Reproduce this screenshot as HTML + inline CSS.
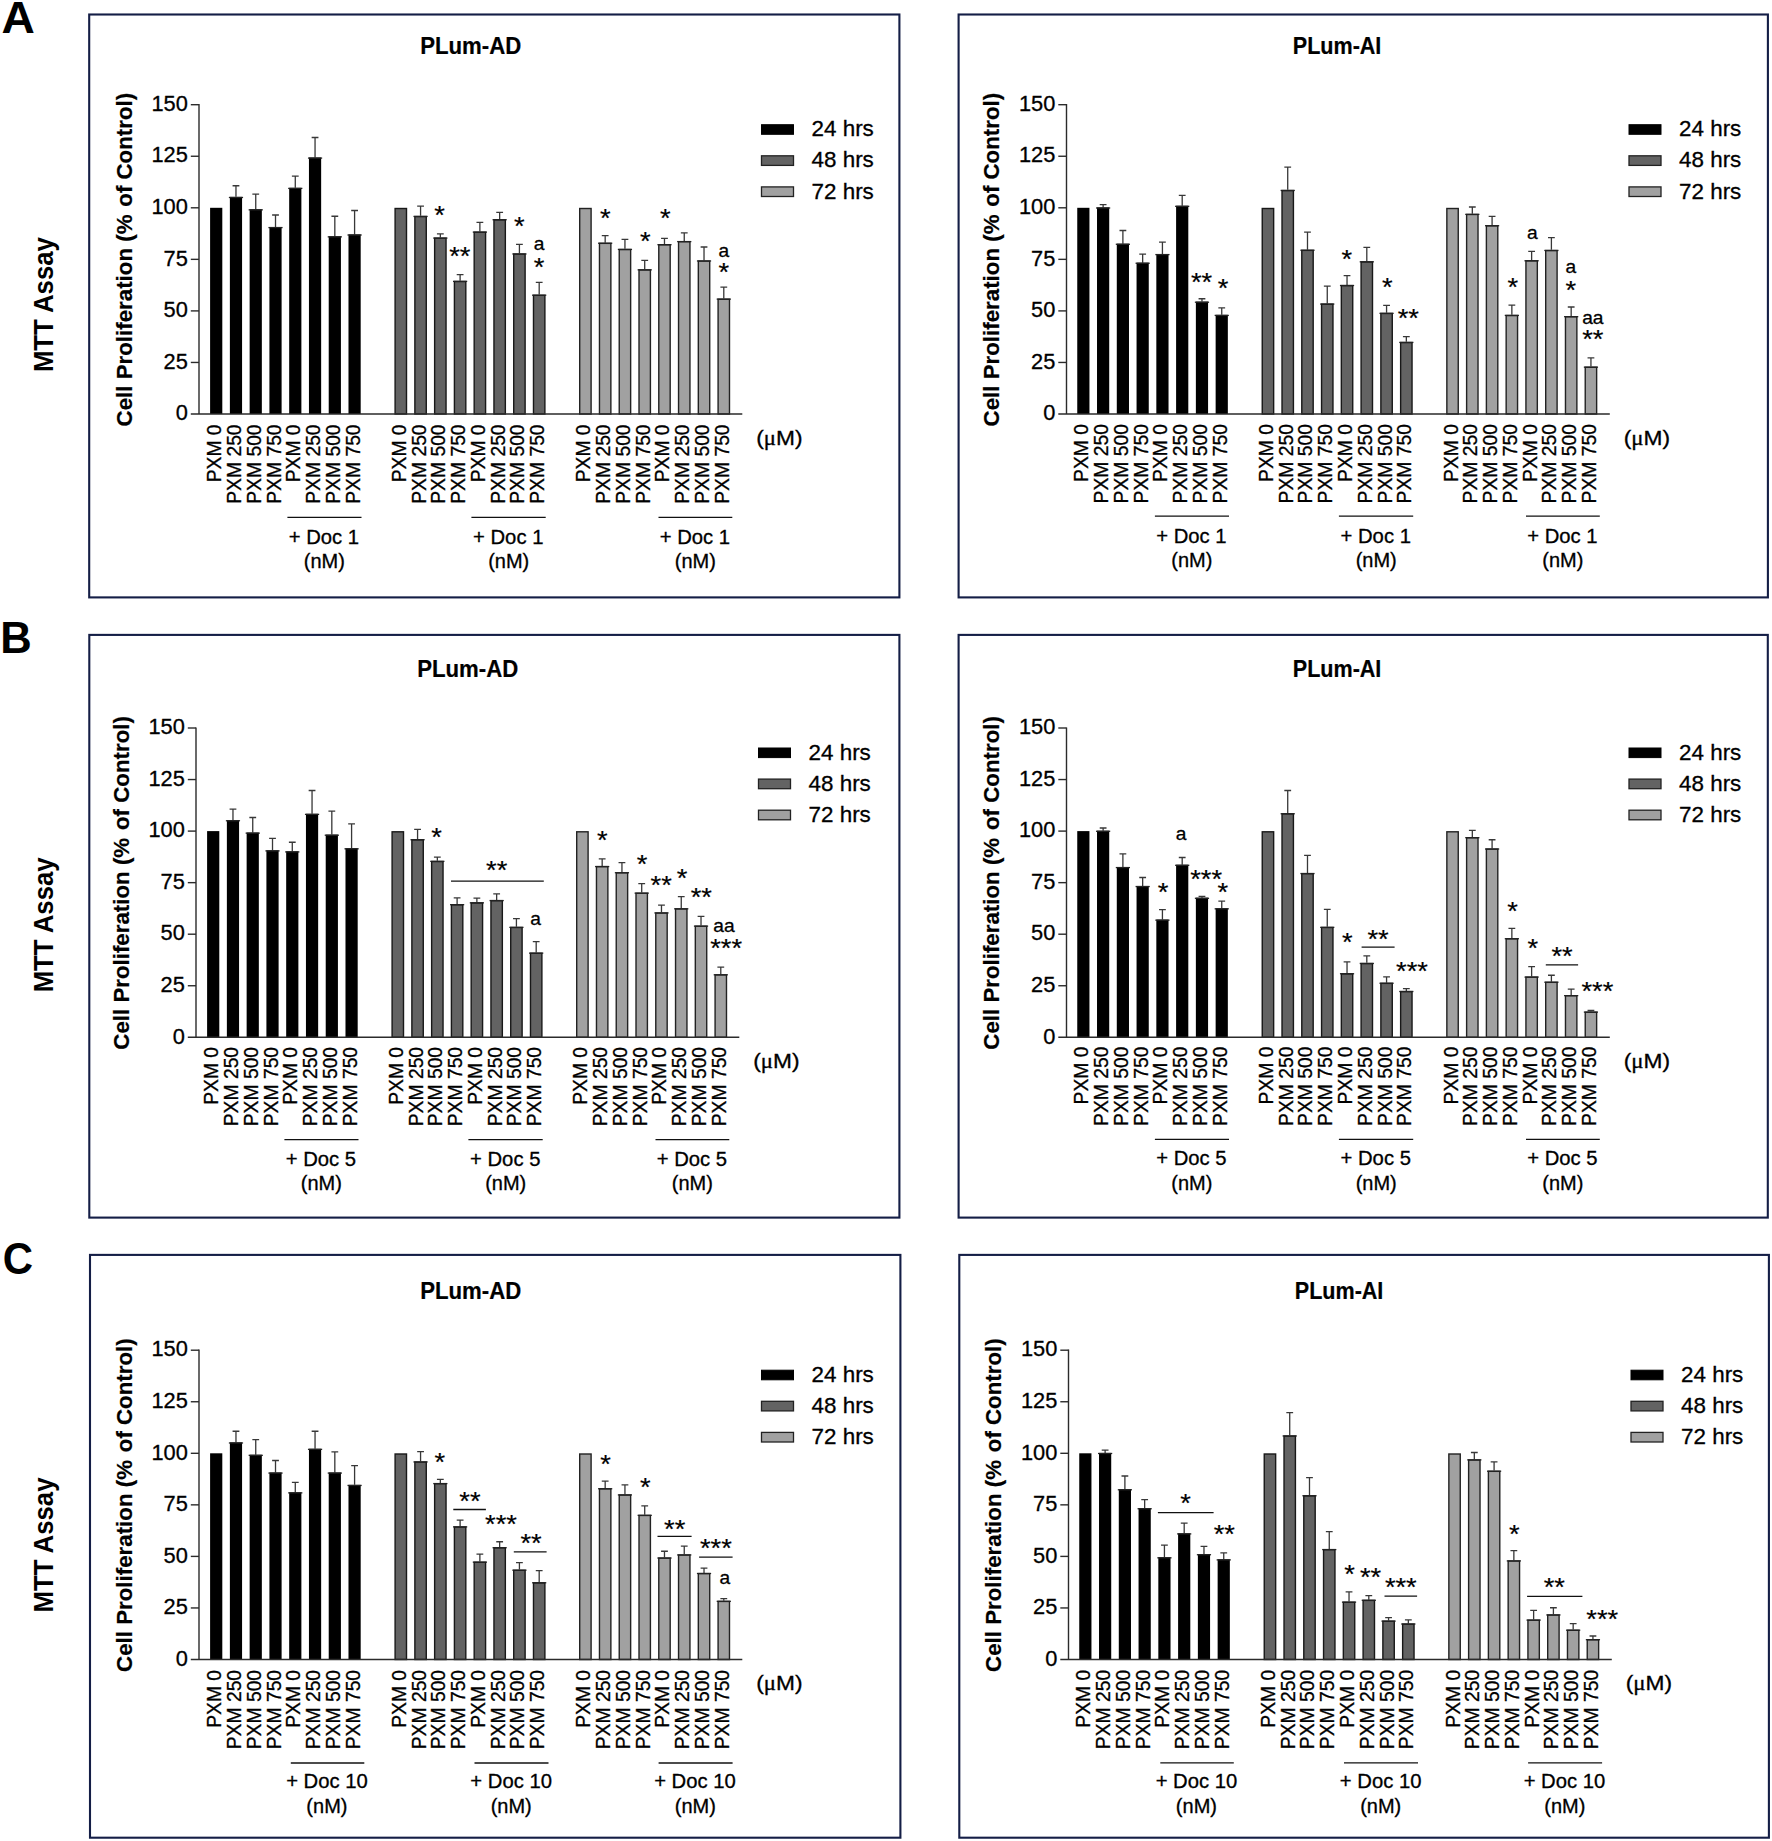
<!DOCTYPE html>
<html lang="en"><head><meta charset="utf-8"><title>MTT Assay - PXM and Doc combination</title>
<style>
html,body{margin:0;padding:0;background:#fff;}
body{width:1772px;height:1841px;overflow:hidden;}
svg{display:block;font-family:"Liberation Sans",Arial,Helvetica,sans-serif;fill:#000;}
text{stroke:#000;stroke-width:0.3px;}
.pb{fill:none;stroke:#141e46;stroke-width:2.1;}
.rl{font-size:43.6px;font-weight:bold;stroke:none;}
.mtt{font-size:26.2px;font-weight:bold;stroke:none;}
.ttl{font-size:22.3px;font-weight:bold;stroke-width:0.2px;}
.yl{font-size:22.3px;font-weight:bold;stroke-width:0.2px;}
.tk,.xl{font-size:19.6px;}
.yt{font-size:21.8px;}
.lt{font-size:21.8px;}
.aa{font-size:18.6px;}
.st{font-size:25.0px;stroke-width:0.2px;}
.mu{font-family:"Liberation Serif","DejaVu Serif",serif;}
.ax{fill:none;stroke:#2b2b2b;stroke-width:1.4;}
.ln{fill:none;stroke:#111;stroke-width:1.3;}
.eb{fill:none;stroke:#383838;stroke-width:1.3;}
.bt{fill:none;stroke:#222;stroke-width:1.3;}
.b0{fill:#000000;}
.b1{fill:#636363;stroke:#181818;stroke-width:1.4;}
.b2{fill:#a1a1a1;stroke:#222222;stroke-width:1.4;}
.lg0{fill:#000;stroke:#000;stroke-width:1;}
.lg1{fill:#636363;stroke:#222;stroke-width:1.3;}
.lg2{fill:#a1a1a1;stroke:#222;stroke-width:1.3;}
</style></head>
<body>
<svg width="1772" height="1841" viewBox="0 0 1772 1841">
<rect width="1772" height="1841" fill="#fff"/>
<rect class="pb" x="89.2" y="14.5" width="810.2" height="582.9"/>
<rect class="pb" x="958.6" y="14.5" width="809.3" height="582.9"/>
<rect class="pb" x="89.3" y="634.9" width="810.1" height="582.7"/>
<rect class="pb" x="958.6" y="634.9" width="809.2" height="582.7"/>
<rect class="pb" x="90" y="1254.9" width="810.4" height="582.8"/>
<rect class="pb" x="959.3" y="1254.9" width="809.6" height="582.8"/>
<text class="rl" transform="translate(1.4 33.3) scale(1.06 1)">A</text>
<text class="mtt" transform="translate(53 304.6) rotate(-90) scale(0.983 1.04)" text-anchor="middle">MTT Assay</text>
<text class="rl" transform="translate(0.3 653.1)">B</text>
<text class="mtt" transform="translate(53 924.9) rotate(-90) scale(0.983 1.04)" text-anchor="middle">MTT Assay</text>
<text class="rl" transform="translate(2.7 1273.7) scale(0.962 1.027)">C</text>
<text class="mtt" transform="translate(53 1545) rotate(-90) scale(0.983 1.04)" text-anchor="middle">MTT Assay</text>
<g transform="translate(199 414)">
<text class="ttl" transform="translate(271.7 -360.1) scale(0.995 1.096)" text-anchor="middle">PLum-AD</text>
<text class="yl" transform="translate(-67.3 -154.4) rotate(-90)" text-anchor="middle">Cell Proliferation (% <tspan dx="1.6">of</tspan> Control)</text>
<rect class="b0" x="11.1" y="-206.2" width="12.2" height="206.2"/>
<text class="xl" transform="translate(22.2 10.4) rotate(-90) scale(0.985 1.055)" text-anchor="end">PXM 0</text>
<path class="eb" d="M36.97 -217.13V-228.26M33.57 -228.26H40.37"/>
<rect class="b0" x="30.87" y="-217.13" width="12.2" height="217.13"/>
<path class="bt" d="M29.87 -216.53H44.07"/>
<text class="xl" transform="translate(41.97 10.4) rotate(-90) scale(0.985 1.055)" text-anchor="end">PXM 250</text>
<path class="eb" d="M56.74 -204.76V-219.81M53.34 -219.81H60.14"/>
<rect class="b0" x="50.64" y="-204.76" width="12.2" height="204.76"/>
<path class="bt" d="M49.64 -204.16H63.84"/>
<text class="xl" transform="translate(61.74 10.4) rotate(-90) scale(0.985 1.055)" text-anchor="end">PXM 500</text>
<path class="eb" d="M76.51 -187.02V-198.98M73.11 -198.98H79.91"/>
<rect class="b0" x="70.41" y="-187.02" width="12.2" height="187.02"/>
<path class="bt" d="M69.41 -186.42H83.61"/>
<text class="xl" transform="translate(81.51 10.4) rotate(-90) scale(0.985 1.055)" text-anchor="end">PXM 750</text>
<path class="eb" d="M96.28 -226.2V-237.95M92.88 -237.95H99.68"/>
<rect class="b0" x="90.18" y="-226.2" width="12.2" height="226.2"/>
<path class="bt" d="M89.18 -225.6H103.38"/>
<text class="xl" transform="translate(101.28 10.4) rotate(-90) scale(0.985 1.055)" text-anchor="end">PXM 0</text>
<path class="eb" d="M116.05 -256.51V-276.51M112.65 -276.51H119.45"/>
<rect class="b0" x="109.95" y="-256.51" width="12.2" height="256.51"/>
<path class="bt" d="M108.95 -255.91H123.15"/>
<text class="xl" transform="translate(121.05 10.4) rotate(-90) scale(0.985 1.055)" text-anchor="end">PXM 250</text>
<path class="eb" d="M135.82 -177.74V-197.75M132.42 -197.75H139.22"/>
<rect class="b0" x="129.72" y="-177.74" width="12.2" height="177.74"/>
<path class="bt" d="M128.72 -177.14H142.92"/>
<text class="xl" transform="translate(140.82 10.4) rotate(-90) scale(0.985 1.055)" text-anchor="end">PXM 500</text>
<path class="eb" d="M155.59 -179.6V-203.52M152.19 -203.52H158.99"/>
<rect class="b0" x="149.49" y="-179.6" width="12.2" height="179.6"/>
<path class="bt" d="M148.49 -179H162.69"/>
<text class="xl" transform="translate(160.59 10.4) rotate(-90) scale(0.985 1.055)" text-anchor="end">PXM 750</text>
<path class="ln" d="M88.4 103.3H162.5"/>
<text class="tk" transform="translate(124.9 129.6) scale(1.035 1)" text-anchor="middle">+ Doc 1</text>
<text class="tk" transform="translate(125.3 154.3) scale(1.02 1)" text-anchor="middle">(nM)</text>
<rect class="b1" x="196.1" y="-205.5" width="11.4" height="205.5"/>
<text class="xl" transform="translate(206.8 10.4) rotate(-90) scale(0.985 1.055)" text-anchor="end">PXM 0</text>
<path class="eb" d="M221.57 -198.16V-207.85M218.17 -207.85H224.97"/>
<rect class="b1" x="215.87" y="-197.46" width="11.4" height="197.46"/>
<path class="bt" d="M214.47 -197.56H228.67"/>
<text class="xl" transform="translate(226.57 10.4) rotate(-90) scale(0.985 1.055)" text-anchor="end">PXM 250</text>
<path class="eb" d="M241.34 -176.51V-180.22M237.94 -180.22H244.74"/>
<rect class="b1" x="235.64" y="-175.81" width="11.4" height="175.81"/>
<path class="bt" d="M234.24 -175.91H248.44"/>
<text class="xl" transform="translate(246.34 10.4) rotate(-90) scale(0.985 1.055)" text-anchor="end">PXM 500</text>
<path class="eb" d="M261.11 -133.21V-139.39M257.71 -139.39H264.51"/>
<rect class="b1" x="255.41" y="-132.51" width="11.4" height="132.51"/>
<path class="bt" d="M254.01 -132.61H268.21"/>
<text class="xl" transform="translate(266.11 10.4) rotate(-90) scale(0.985 1.055)" text-anchor="end">PXM 750</text>
<path class="eb" d="M280.88 -182.49V-191.56M277.48 -191.56H284.28"/>
<rect class="b1" x="275.18" y="-181.79" width="11.4" height="181.79"/>
<path class="bt" d="M273.78 -181.89H287.98"/>
<text class="xl" transform="translate(285.88 10.4) rotate(-90) scale(0.985 1.055)" text-anchor="end">PXM 0</text>
<path class="eb" d="M300.65 -194.86V-201.66M297.25 -201.66H304.05"/>
<rect class="b1" x="294.95" y="-194.16" width="11.4" height="194.16"/>
<path class="bt" d="M293.55 -194.26H307.75"/>
<text class="xl" transform="translate(305.65 10.4) rotate(-90) scale(0.985 1.055)" text-anchor="end">PXM 250</text>
<path class="eb" d="M320.42 -160.63V-169.7M317.02 -169.7H323.82"/>
<rect class="b1" x="314.72" y="-159.93" width="11.4" height="159.93"/>
<path class="bt" d="M313.32 -160.03H327.52"/>
<text class="xl" transform="translate(325.42 10.4) rotate(-90) scale(0.985 1.055)" text-anchor="end">PXM 500</text>
<path class="eb" d="M340.19 -119.39V-131.56M336.79 -131.56H343.59"/>
<rect class="b1" x="334.49" y="-118.69" width="11.4" height="118.69"/>
<path class="bt" d="M333.09 -118.79H347.29"/>
<text class="xl" transform="translate(345.19 10.4) rotate(-90) scale(0.985 1.055)" text-anchor="end">PXM 750</text>
<path class="ln" d="M272.4 103.3H346.7"/>
<text class="tk" transform="translate(309.2 129.6) scale(1.035 1)" text-anchor="middle">+ Doc 1</text>
<text class="tk" transform="translate(309.7 154.3) scale(1.02 1)" text-anchor="middle">(nM)</text>
<rect class="b2" x="380.7" y="-205.5" width="11.4" height="205.5"/>
<text class="xl" transform="translate(391.4 10.4) rotate(-90) scale(0.985 1.055)" text-anchor="end">PXM 0</text>
<path class="eb" d="M406.17 -171.35V-178.36M402.77 -178.36H409.57"/>
<rect class="b2" x="400.47" y="-170.65" width="11.4" height="170.65"/>
<path class="bt" d="M399.07 -170.75H413.27"/>
<text class="xl" transform="translate(411.17 10.4) rotate(-90) scale(0.985 1.055)" text-anchor="end">PXM 250</text>
<path class="eb" d="M425.94 -165.17V-174.65M422.54 -174.65H429.34"/>
<rect class="b2" x="420.24" y="-164.47" width="11.4" height="164.47"/>
<path class="bt" d="M418.84 -164.57H433.04"/>
<text class="xl" transform="translate(430.94 10.4) rotate(-90) scale(0.985 1.055)" text-anchor="end">PXM 500</text>
<path class="eb" d="M445.71 -144.75V-153.62M442.31 -153.62H449.11"/>
<rect class="b2" x="440.01" y="-144.05" width="11.4" height="144.05"/>
<path class="bt" d="M438.61 -144.15H452.81"/>
<text class="xl" transform="translate(450.71 10.4) rotate(-90) scale(0.985 1.055)" text-anchor="end">PXM 750</text>
<path class="eb" d="M465.48 -169.91V-175.68M462.08 -175.68H468.88"/>
<rect class="b2" x="459.78" y="-169.21" width="11.4" height="169.21"/>
<path class="bt" d="M458.38 -169.31H472.58"/>
<text class="xl" transform="translate(470.48 10.4) rotate(-90) scale(0.985 1.055)" text-anchor="end">PXM 0</text>
<path class="eb" d="M485.25 -173V-181.04M481.85 -181.04H488.65"/>
<rect class="b2" x="479.55" y="-172.3" width="11.4" height="172.3"/>
<path class="bt" d="M478.15 -172.4H492.35"/>
<text class="xl" transform="translate(490.25 10.4) rotate(-90) scale(0.985 1.055)" text-anchor="end">PXM 250</text>
<path class="eb" d="M505.02 -153.62V-167.02M501.62 -167.02H508.42"/>
<rect class="b2" x="499.32" y="-152.92" width="11.4" height="152.92"/>
<path class="bt" d="M497.92 -153.02H512.12"/>
<text class="xl" transform="translate(510.02 10.4) rotate(-90) scale(0.985 1.055)" text-anchor="end">PXM 500</text>
<path class="eb" d="M524.79 -115.47V-126.81M521.39 -126.81H528.19"/>
<rect class="b2" x="519.09" y="-114.77" width="11.4" height="114.77"/>
<path class="bt" d="M517.69 -114.87H531.89"/>
<text class="xl" transform="translate(529.79 10.4) rotate(-90) scale(0.985 1.055)" text-anchor="end">PXM 750</text>
<path class="ln" d="M459.5 103.3H533.3"/>
<text class="tk" transform="translate(495.9 129.6) scale(1.035 1)" text-anchor="middle">+ Doc 1</text>
<text class="tk" transform="translate(496.3 154.3) scale(1.02 1)" text-anchor="middle">(nM)</text>
<path class="ax" d="M0 -309.9V0.6M-8.2 0H543.3"/>
<text class="yt" transform="translate(-11.2 6.2) scale(1 1.05)" text-anchor="end">0</text>
<path class="ax" d="M-8.2 -51.55H0"/>
<text class="yt" transform="translate(-11.2 -45.35) scale(1 1.05)" text-anchor="end">25</text>
<path class="ax" d="M-8.2 -103.1H0"/>
<text class="yt" transform="translate(-11.2 -96.9) scale(1 1.05)" text-anchor="end">50</text>
<path class="ax" d="M-8.2 -154.65H0"/>
<text class="yt" transform="translate(-11.2 -148.45) scale(1 1.05)" text-anchor="end">75</text>
<path class="ax" d="M-8.2 -206.2H0"/>
<text class="yt" transform="translate(-11.2 -200) scale(1 1.05)" text-anchor="end">100</text>
<path class="ax" d="M-8.2 -257.75H0"/>
<text class="yt" transform="translate(-11.2 -251.55) scale(1 1.05)" text-anchor="end">125</text>
<path class="ax" d="M-8.2 -309.3H0"/>
<text class="yt" transform="translate(-11.2 -303.1) scale(1 1.05)" text-anchor="end">150</text>
<text class="tk" transform="translate(557.2 30.9) scale(1.16 1.05)">(<tspan class="mu">μ</tspan>M)</text>
<rect class="lg0" x="562.5" y="-289.3" width="32" height="9.6"/>
<text class="lt" transform="translate(612.6 -277.7) scale(1.027 1)">24 hrs</text>
<rect class="lg1" x="562.5" y="-258.2" width="32" height="9.6"/>
<text class="lt" transform="translate(612.6 -246.6) scale(1.027 1)">48 hrs</text>
<rect class="lg2" x="562.5" y="-227.1" width="32" height="9.6"/>
<text class="lt" transform="translate(612.6 -215.5) scale(1.027 1)">72 hrs</text>
</g>
<text class="st" transform="translate(439.6 224.4) scale(1.09 1)" text-anchor="middle">*</text>
<text class="st" transform="translate(459.8 264.7) scale(1.09 1)" text-anchor="middle">**</text>
<text class="st" transform="translate(519.4 235.1) scale(1.09 1)" text-anchor="middle">*</text>
<text class="aa" transform="translate(539.1 250.4) scale(1.03 1)" text-anchor="middle">a</text>
<text class="st" transform="translate(539.1 276.3) scale(1.09 1)" text-anchor="middle">*</text>
<text class="st" transform="translate(605.2 226.5) scale(1.09 1)" text-anchor="middle">*</text>
<text class="st" transform="translate(645.3 250.1) scale(1.09 1)" text-anchor="middle">*</text>
<text class="st" transform="translate(665.2 226.9) scale(1.09 1)" text-anchor="middle">*</text>
<text class="aa" transform="translate(723.8 256.8) scale(1.03 1)" text-anchor="middle">a</text>
<text class="st" transform="translate(723.8 281.2) scale(1.09 1)" text-anchor="middle">*</text>
<g transform="translate(1066.5 414)">
<text class="ttl" transform="translate(270.6 -360.1) scale(0.966 1.096)" text-anchor="middle">PLum-AI</text>
<text class="yl" transform="translate(-67.3 -154.4) rotate(-90)" text-anchor="middle">Cell Proliferation (% <tspan dx="1.6">of</tspan> Control)</text>
<rect class="b0" x="10.75" y="-206.2" width="12.2" height="206.2"/>
<text class="xl" transform="translate(21.85 10) rotate(-90) scale(0.985 1.055)" text-anchor="end">PXM 0</text>
<path class="eb" d="M36.62 -206.61V-209.29M33.22 -209.29H40.02"/>
<rect class="b0" x="30.52" y="-206.61" width="12.2" height="206.61"/>
<path class="bt" d="M29.52 -206.01H43.72"/>
<text class="xl" transform="translate(41.62 10) rotate(-90) scale(0.985 1.055)" text-anchor="end">PXM 250</text>
<path class="eb" d="M56.39 -170.32V-183.52M52.99 -183.52H59.79"/>
<rect class="b0" x="50.29" y="-170.32" width="12.2" height="170.32"/>
<path class="bt" d="M49.29 -169.72H63.49"/>
<text class="xl" transform="translate(61.39 10) rotate(-90) scale(0.985 1.055)" text-anchor="end">PXM 500</text>
<path class="eb" d="M76.16 -151.35V-159.8M72.76 -159.8H79.56"/>
<rect class="b0" x="70.06" y="-151.35" width="12.2" height="151.35"/>
<path class="bt" d="M69.06 -150.75H83.26"/>
<text class="xl" transform="translate(81.16 10) rotate(-90) scale(0.985 1.055)" text-anchor="end">PXM 750</text>
<path class="eb" d="M95.93 -160.01V-171.97M92.53 -171.97H99.33"/>
<rect class="b0" x="89.83" y="-160.01" width="12.2" height="160.01"/>
<path class="bt" d="M88.83 -159.41H103.03"/>
<text class="xl" transform="translate(100.93 10) rotate(-90) scale(0.985 1.055)" text-anchor="end">PXM 0</text>
<path class="eb" d="M115.7 -208.26V-218.57M112.3 -218.57H119.1"/>
<rect class="b0" x="109.6" y="-208.26" width="12.2" height="208.26"/>
<path class="bt" d="M108.6 -207.66H122.8"/>
<text class="xl" transform="translate(120.7 10) rotate(-90) scale(0.985 1.055)" text-anchor="end">PXM 250</text>
<path class="eb" d="M135.47 -112.38V-115.27M132.07 -115.27H138.87"/>
<rect class="b0" x="129.37" y="-112.38" width="12.2" height="112.38"/>
<path class="bt" d="M128.37 -111.78H142.57"/>
<text class="xl" transform="translate(140.47 10) rotate(-90) scale(0.985 1.055)" text-anchor="end">PXM 500</text>
<path class="eb" d="M155.24 -99.18V-106.19M151.84 -106.19H158.64"/>
<rect class="b0" x="149.14" y="-99.18" width="12.2" height="99.18"/>
<path class="bt" d="M148.14 -98.58H162.34"/>
<text class="xl" transform="translate(160.24 10) rotate(-90) scale(0.985 1.055)" text-anchor="end">PXM 750</text>
<path class="ln" d="M88.4 102.1H162.5"/>
<text class="tk" transform="translate(124.9 128.8) scale(1.035 1)" text-anchor="middle">+ Doc 1</text>
<text class="tk" transform="translate(125.3 153.4) scale(1.02 1)" text-anchor="middle">(nM)</text>
<rect class="b1" x="195.75" y="-205.5" width="11.4" height="205.5"/>
<text class="xl" transform="translate(206.45 10) rotate(-90) scale(0.985 1.055)" text-anchor="end">PXM 0</text>
<path class="eb" d="M221.22 -224.14V-246.82M217.82 -246.82H224.62"/>
<rect class="b1" x="215.52" y="-223.44" width="11.4" height="223.44"/>
<path class="bt" d="M214.12 -223.54H228.32"/>
<text class="xl" transform="translate(226.22 10) rotate(-90) scale(0.985 1.055)" text-anchor="end">PXM 250</text>
<path class="eb" d="M240.99 -164.34V-181.87M237.59 -181.87H244.39"/>
<rect class="b1" x="235.29" y="-163.64" width="11.4" height="163.64"/>
<path class="bt" d="M233.89 -163.74H248.09"/>
<text class="xl" transform="translate(245.99 10) rotate(-90) scale(0.985 1.055)" text-anchor="end">PXM 500</text>
<path class="eb" d="M260.76 -110.52V-127.84M257.36 -127.84H264.16"/>
<rect class="b1" x="255.06" y="-109.82" width="11.4" height="109.82"/>
<path class="bt" d="M253.66 -109.92H267.86"/>
<text class="xl" transform="translate(265.76 10) rotate(-90) scale(0.985 1.055)" text-anchor="end">PXM 750</text>
<path class="eb" d="M280.53 -129.08V-138.36M277.13 -138.36H283.93"/>
<rect class="b1" x="274.83" y="-128.38" width="11.4" height="128.38"/>
<path class="bt" d="M273.43 -128.48H287.63"/>
<text class="xl" transform="translate(285.53 10) rotate(-90) scale(0.985 1.055)" text-anchor="end">PXM 0</text>
<path class="eb" d="M300.3 -152.79V-166.61M296.9 -166.61H303.7"/>
<rect class="b1" x="294.6" y="-152.09" width="11.4" height="152.09"/>
<path class="bt" d="M293.2 -152.19H307.4"/>
<text class="xl" transform="translate(305.3 10) rotate(-90) scale(0.985 1.055)" text-anchor="end">PXM 250</text>
<path class="eb" d="M320.07 -101.24V-108.67M316.67 -108.67H323.47"/>
<rect class="b1" x="314.37" y="-100.54" width="11.4" height="100.54"/>
<path class="bt" d="M312.97 -100.64H327.17"/>
<text class="xl" transform="translate(325.07 10) rotate(-90) scale(0.985 1.055)" text-anchor="end">PXM 500</text>
<path class="eb" d="M339.84 -72.17V-77.32M336.44 -77.32H343.24"/>
<rect class="b1" x="334.14" y="-71.47" width="11.4" height="71.47"/>
<path class="bt" d="M332.74 -71.57H346.94"/>
<text class="xl" transform="translate(344.84 10) rotate(-90) scale(0.985 1.055)" text-anchor="end">PXM 750</text>
<path class="ln" d="M272.4 102.1H346.7"/>
<text class="tk" transform="translate(309.2 128.8) scale(1.035 1)" text-anchor="middle">+ Doc 1</text>
<text class="tk" transform="translate(309.7 153.4) scale(1.02 1)" text-anchor="middle">(nM)</text>
<rect class="b2" x="380.35" y="-205.5" width="11.4" height="205.5"/>
<text class="xl" transform="translate(391.05 10) rotate(-90) scale(0.985 1.055)" text-anchor="end">PXM 0</text>
<path class="eb" d="M405.82 -200.22V-207.02M402.42 -207.02H409.22"/>
<rect class="b2" x="400.12" y="-199.52" width="11.4" height="199.52"/>
<path class="bt" d="M398.72 -199.62H412.92"/>
<text class="xl" transform="translate(410.82 10) rotate(-90) scale(0.985 1.055)" text-anchor="end">PXM 250</text>
<path class="eb" d="M425.59 -188.88V-197.54M422.19 -197.54H428.99"/>
<rect class="b2" x="419.89" y="-188.18" width="11.4" height="188.18"/>
<path class="bt" d="M418.49 -188.28H432.69"/>
<text class="xl" transform="translate(430.59 10) rotate(-90) scale(0.985 1.055)" text-anchor="end">PXM 500</text>
<path class="eb" d="M445.36 -99.18V-108.87M441.96 -108.87H448.76"/>
<rect class="b2" x="439.66" y="-98.48" width="11.4" height="98.48"/>
<path class="bt" d="M438.26 -98.58H452.46"/>
<text class="xl" transform="translate(450.36 10) rotate(-90) scale(0.985 1.055)" text-anchor="end">PXM 750</text>
<path class="eb" d="M465.13 -153.83V-162.69M461.73 -162.69H468.53"/>
<rect class="b2" x="459.43" y="-153.13" width="11.4" height="153.13"/>
<path class="bt" d="M458.03 -153.23H472.23"/>
<text class="xl" transform="translate(470.13 10) rotate(-90) scale(0.985 1.055)" text-anchor="end">PXM 0</text>
<path class="eb" d="M484.9 -164.14V-176.3M481.5 -176.3H488.3"/>
<rect class="b2" x="479.2" y="-163.44" width="11.4" height="163.44"/>
<path class="bt" d="M477.8 -163.54H492"/>
<text class="xl" transform="translate(489.9 10) rotate(-90) scale(0.985 1.055)" text-anchor="end">PXM 250</text>
<path class="eb" d="M504.67 -97.94V-107.02M501.27 -107.02H508.07"/>
<rect class="b2" x="498.97" y="-97.24" width="11.4" height="97.24"/>
<path class="bt" d="M497.57 -97.34H511.77"/>
<text class="xl" transform="translate(509.67 10) rotate(-90) scale(0.985 1.055)" text-anchor="end">PXM 500</text>
<path class="eb" d="M524.44 -47.43V-56.09M521.04 -56.09H527.84"/>
<rect class="b2" x="518.74" y="-46.73" width="11.4" height="46.73"/>
<path class="bt" d="M517.34 -46.83H531.54"/>
<text class="xl" transform="translate(529.44 10) rotate(-90) scale(0.985 1.055)" text-anchor="end">PXM 750</text>
<path class="ln" d="M459.5 102.1H533.3"/>
<text class="tk" transform="translate(495.9 128.8) scale(1.035 1)" text-anchor="middle">+ Doc 1</text>
<text class="tk" transform="translate(496.3 153.4) scale(1.02 1)" text-anchor="middle">(nM)</text>
<path class="ax" d="M0 -309.9V0.6M-8.2 0H543.3"/>
<text class="yt" transform="translate(-11.2 6.2) scale(1 1.05)" text-anchor="end">0</text>
<path class="ax" d="M-8.2 -51.55H0"/>
<text class="yt" transform="translate(-11.2 -45.35) scale(1 1.05)" text-anchor="end">25</text>
<path class="ax" d="M-8.2 -103.1H0"/>
<text class="yt" transform="translate(-11.2 -96.9) scale(1 1.05)" text-anchor="end">50</text>
<path class="ax" d="M-8.2 -154.65H0"/>
<text class="yt" transform="translate(-11.2 -148.45) scale(1 1.05)" text-anchor="end">75</text>
<path class="ax" d="M-8.2 -206.2H0"/>
<text class="yt" transform="translate(-11.2 -200) scale(1 1.05)" text-anchor="end">100</text>
<path class="ax" d="M-8.2 -257.75H0"/>
<text class="yt" transform="translate(-11.2 -251.55) scale(1 1.05)" text-anchor="end">125</text>
<path class="ax" d="M-8.2 -309.3H0"/>
<text class="yt" transform="translate(-11.2 -303.1) scale(1 1.05)" text-anchor="end">150</text>
<text class="tk" transform="translate(557.2 30.9) scale(1.16 1.05)">(<tspan class="mu">μ</tspan>M)</text>
<rect class="lg0" x="562.5" y="-289.3" width="32" height="9.6"/>
<text class="lt" transform="translate(612.6 -277.7) scale(1.027 1)">24 hrs</text>
<rect class="lg1" x="562.5" y="-258.2" width="32" height="9.6"/>
<text class="lt" transform="translate(612.6 -246.6) scale(1.027 1)">48 hrs</text>
<rect class="lg2" x="562.5" y="-227.1" width="32" height="9.6"/>
<text class="lt" transform="translate(612.6 -215.5) scale(1.027 1)">72 hrs</text>
</g>
<text class="st" transform="translate(1201.5 290.7) scale(1.09 1)" text-anchor="middle">**</text>
<text class="st" transform="translate(1223 296.6) scale(1.09 1)" text-anchor="middle">*</text>
<text class="st" transform="translate(1346.8 267.6) scale(1.09 1)" text-anchor="middle">*</text>
<text class="st" transform="translate(1387.3 296.3) scale(1.09 1)" text-anchor="middle">*</text>
<text class="st" transform="translate(1408.3 327) scale(1.09 1)" text-anchor="middle">**</text>
<text class="st" transform="translate(1512.8 296.3) scale(1.09 1)" text-anchor="middle">*</text>
<text class="aa" transform="translate(1532.3 238.9) scale(1.03 1)" text-anchor="middle">a</text>
<text class="aa" transform="translate(1570.9 273) scale(1.03 1)" text-anchor="middle">a</text>
<text class="st" transform="translate(1570.9 298.5) scale(1.09 1)" text-anchor="middle">*</text>
<text class="aa" transform="translate(1592.8 324.1) scale(1.03 1)" text-anchor="middle">aa</text>
<text class="st" transform="translate(1592.8 348.4) scale(1.09 1)" text-anchor="middle">**</text>
<g transform="translate(196 1037.3)">
<text class="ttl" transform="translate(271.7 -360.1) scale(0.995 1.096)" text-anchor="middle">PLum-AD</text>
<text class="yl" transform="translate(-67.3 -154.4) rotate(-90)" text-anchor="middle">Cell Proliferation (% <tspan dx="1.6">of</tspan> Control)</text>
<rect class="b0" x="11.1" y="-206.2" width="12.2" height="206.2"/>
<text class="xl" transform="translate(22.2 9.6) rotate(-90) scale(0.985 1.055)" text-anchor="end">PXM 0</text>
<path class="eb" d="M36.97 -217.13V-228.26M33.57 -228.26H40.37"/>
<rect class="b0" x="30.87" y="-217.13" width="12.2" height="217.13"/>
<path class="bt" d="M29.87 -216.53H44.07"/>
<text class="xl" transform="translate(41.97 9.6) rotate(-90) scale(0.985 1.055)" text-anchor="end">PXM 250</text>
<path class="eb" d="M56.74 -204.76V-219.81M53.34 -219.81H60.14"/>
<rect class="b0" x="50.64" y="-204.76" width="12.2" height="204.76"/>
<path class="bt" d="M49.64 -204.16H63.84"/>
<text class="xl" transform="translate(61.74 9.6) rotate(-90) scale(0.985 1.055)" text-anchor="end">PXM 500</text>
<path class="eb" d="M76.51 -187.02V-198.98M73.11 -198.98H79.91"/>
<rect class="b0" x="70.41" y="-187.02" width="12.2" height="187.02"/>
<path class="bt" d="M69.41 -186.42H83.61"/>
<text class="xl" transform="translate(81.51 9.6) rotate(-90) scale(0.985 1.055)" text-anchor="end">PXM 750</text>
<path class="eb" d="M96.28 -185.99V-195.07M92.88 -195.07H99.68"/>
<rect class="b0" x="90.18" y="-185.99" width="12.2" height="185.99"/>
<path class="bt" d="M89.18 -185.39H103.38"/>
<text class="xl" transform="translate(101.28 9.6) rotate(-90) scale(0.985 1.055)" text-anchor="end">PXM 0</text>
<path class="eb" d="M116.05 -223.52V-246.82M112.65 -246.82H119.45"/>
<rect class="b0" x="109.95" y="-223.52" width="12.2" height="223.52"/>
<path class="bt" d="M108.95 -222.92H123.15"/>
<text class="xl" transform="translate(121.05 9.6) rotate(-90) scale(0.985 1.055)" text-anchor="end">PXM 250</text>
<path class="eb" d="M135.82 -202.69V-226.2M132.42 -226.2H139.22"/>
<rect class="b0" x="129.72" y="-202.69" width="12.2" height="202.69"/>
<path class="bt" d="M128.72 -202.09H142.92"/>
<text class="xl" transform="translate(140.82 9.6) rotate(-90) scale(0.985 1.055)" text-anchor="end">PXM 500</text>
<path class="eb" d="M155.59 -189.09V-213.42M152.19 -213.42H158.99"/>
<rect class="b0" x="149.49" y="-189.09" width="12.2" height="189.09"/>
<path class="bt" d="M148.49 -188.49H162.69"/>
<text class="xl" transform="translate(160.59 9.6) rotate(-90) scale(0.985 1.055)" text-anchor="end">PXM 750</text>
<path class="ln" d="M88.4 102.3H162.5"/>
<text class="tk" transform="translate(124.9 128.2) scale(1.035 1)" text-anchor="middle">+ Doc 5</text>
<text class="tk" transform="translate(125.3 153.1) scale(1.02 1)" text-anchor="middle">(nM)</text>
<rect class="b1" x="196.1" y="-205.5" width="11.4" height="205.5"/>
<text class="xl" transform="translate(206.8 9.6) rotate(-90) scale(0.985 1.055)" text-anchor="end">PXM 0</text>
<path class="eb" d="M221.57 -198.16V-207.85M218.17 -207.85H224.97"/>
<rect class="b1" x="215.87" y="-197.46" width="11.4" height="197.46"/>
<path class="bt" d="M214.47 -197.56H228.67"/>
<text class="xl" transform="translate(226.57 9.6) rotate(-90) scale(0.985 1.055)" text-anchor="end">PXM 250</text>
<path class="eb" d="M241.34 -176.51V-180.22M237.94 -180.22H244.74"/>
<rect class="b1" x="235.64" y="-175.81" width="11.4" height="175.81"/>
<path class="bt" d="M234.24 -175.91H248.44"/>
<text class="xl" transform="translate(246.34 9.6) rotate(-90) scale(0.985 1.055)" text-anchor="end">PXM 500</text>
<path class="eb" d="M261.11 -133.21V-139.39M257.71 -139.39H264.51"/>
<rect class="b1" x="255.41" y="-132.51" width="11.4" height="132.51"/>
<path class="bt" d="M254.01 -132.61H268.21"/>
<text class="xl" transform="translate(266.11 9.6) rotate(-90) scale(0.985 1.055)" text-anchor="end">PXM 750</text>
<path class="eb" d="M280.88 -135.06V-139.19M277.48 -139.19H284.28"/>
<rect class="b1" x="275.18" y="-134.36" width="11.4" height="134.36"/>
<path class="bt" d="M273.78 -134.46H287.98"/>
<text class="xl" transform="translate(285.88 9.6) rotate(-90) scale(0.985 1.055)" text-anchor="end">PXM 0</text>
<path class="eb" d="M300.65 -137.33V-143.52M297.25 -143.52H304.05"/>
<rect class="b1" x="294.95" y="-136.63" width="11.4" height="136.63"/>
<path class="bt" d="M293.55 -136.73H307.75"/>
<text class="xl" transform="translate(305.65 9.6) rotate(-90) scale(0.985 1.055)" text-anchor="end">PXM 250</text>
<path class="eb" d="M320.42 -110.52V-118.77M317.02 -118.77H323.82"/>
<rect class="b1" x="314.72" y="-109.82" width="11.4" height="109.82"/>
<path class="bt" d="M313.32 -109.92H327.52"/>
<text class="xl" transform="translate(325.42 9.6) rotate(-90) scale(0.985 1.055)" text-anchor="end">PXM 500</text>
<path class="eb" d="M340.19 -84.75V-95.68M336.79 -95.68H343.59"/>
<rect class="b1" x="334.49" y="-84.05" width="11.4" height="84.05"/>
<path class="bt" d="M333.09 -84.15H347.29"/>
<text class="xl" transform="translate(345.19 9.6) rotate(-90) scale(0.985 1.055)" text-anchor="end">PXM 750</text>
<path class="ln" d="M272.4 102.3H346.7"/>
<text class="tk" transform="translate(309.2 128.2) scale(1.035 1)" text-anchor="middle">+ Doc 5</text>
<text class="tk" transform="translate(309.7 153.1) scale(1.02 1)" text-anchor="middle">(nM)</text>
<rect class="b2" x="380.7" y="-205.5" width="11.4" height="205.5"/>
<text class="xl" transform="translate(391.4 9.6) rotate(-90) scale(0.985 1.055)" text-anchor="end">PXM 0</text>
<path class="eb" d="M406.17 -171.35V-178.36M402.77 -178.36H409.57"/>
<rect class="b2" x="400.47" y="-170.65" width="11.4" height="170.65"/>
<path class="bt" d="M399.07 -170.75H413.27"/>
<text class="xl" transform="translate(411.17 9.6) rotate(-90) scale(0.985 1.055)" text-anchor="end">PXM 250</text>
<path class="eb" d="M425.94 -165.17V-174.65M422.54 -174.65H429.34"/>
<rect class="b2" x="420.24" y="-164.47" width="11.4" height="164.47"/>
<path class="bt" d="M418.84 -164.57H433.04"/>
<text class="xl" transform="translate(430.94 9.6) rotate(-90) scale(0.985 1.055)" text-anchor="end">PXM 500</text>
<path class="eb" d="M445.71 -144.75V-153.62M442.31 -153.62H449.11"/>
<rect class="b2" x="440.01" y="-144.05" width="11.4" height="144.05"/>
<path class="bt" d="M438.61 -144.15H452.81"/>
<text class="xl" transform="translate(450.71 9.6) rotate(-90) scale(0.985 1.055)" text-anchor="end">PXM 750</text>
<path class="eb" d="M465.48 -124.96V-132.17M462.08 -132.17H468.88"/>
<rect class="b2" x="459.78" y="-124.26" width="11.4" height="124.26"/>
<path class="bt" d="M458.38 -124.36H472.58"/>
<text class="xl" transform="translate(470.48 9.6) rotate(-90) scale(0.985 1.055)" text-anchor="end">PXM 0</text>
<path class="eb" d="M485.25 -129.08V-140.63M481.85 -140.63H488.65"/>
<rect class="b2" x="479.55" y="-128.38" width="11.4" height="128.38"/>
<path class="bt" d="M478.15 -128.48H492.35"/>
<text class="xl" transform="translate(490.25 9.6) rotate(-90) scale(0.985 1.055)" text-anchor="end">PXM 250</text>
<path class="eb" d="M505.02 -111.76V-120.83M501.62 -120.83H508.42"/>
<rect class="b2" x="499.32" y="-111.06" width="11.4" height="111.06"/>
<path class="bt" d="M497.92 -111.16H512.12"/>
<text class="xl" transform="translate(510.02 9.6) rotate(-90) scale(0.985 1.055)" text-anchor="end">PXM 500</text>
<path class="eb" d="M524.79 -63.1V-70.11M521.39 -70.11H528.19"/>
<rect class="b2" x="519.09" y="-62.4" width="11.4" height="62.4"/>
<path class="bt" d="M517.69 -62.5H531.89"/>
<text class="xl" transform="translate(529.79 9.6) rotate(-90) scale(0.985 1.055)" text-anchor="end">PXM 750</text>
<path class="ln" d="M459.5 102.3H533.3"/>
<text class="tk" transform="translate(495.9 128.2) scale(1.035 1)" text-anchor="middle">+ Doc 5</text>
<text class="tk" transform="translate(496.3 153.1) scale(1.02 1)" text-anchor="middle">(nM)</text>
<path class="ax" d="M0 -309.9V0.6M-8.2 0H543.3"/>
<text class="yt" transform="translate(-11.2 6.2) scale(1 1.05)" text-anchor="end">0</text>
<path class="ax" d="M-8.2 -51.55H0"/>
<text class="yt" transform="translate(-11.2 -45.35) scale(1 1.05)" text-anchor="end">25</text>
<path class="ax" d="M-8.2 -103.1H0"/>
<text class="yt" transform="translate(-11.2 -96.9) scale(1 1.05)" text-anchor="end">50</text>
<path class="ax" d="M-8.2 -154.65H0"/>
<text class="yt" transform="translate(-11.2 -148.45) scale(1 1.05)" text-anchor="end">75</text>
<path class="ax" d="M-8.2 -206.2H0"/>
<text class="yt" transform="translate(-11.2 -200) scale(1 1.05)" text-anchor="end">100</text>
<path class="ax" d="M-8.2 -257.75H0"/>
<text class="yt" transform="translate(-11.2 -251.55) scale(1 1.05)" text-anchor="end">125</text>
<path class="ax" d="M-8.2 -309.3H0"/>
<text class="yt" transform="translate(-11.2 -303.1) scale(1 1.05)" text-anchor="end">150</text>
<text class="tk" transform="translate(557.2 30.9) scale(1.16 1.05)">(<tspan class="mu">μ</tspan>M)</text>
<rect class="lg0" x="562.5" y="-289.3" width="32" height="9.6"/>
<text class="lt" transform="translate(612.6 -277.7) scale(1.027 1)">24 hrs</text>
<rect class="lg1" x="562.5" y="-258.2" width="32" height="9.6"/>
<text class="lt" transform="translate(612.6 -246.6) scale(1.027 1)">48 hrs</text>
<rect class="lg2" x="562.5" y="-227.1" width="32" height="9.6"/>
<text class="lt" transform="translate(612.6 -215.5) scale(1.027 1)">72 hrs</text>
</g>
<text class="st" transform="translate(436.6 846.2) scale(1.09 1)" text-anchor="middle">*</text>
<text class="st" transform="translate(496.7 879.4) scale(1.09 1)" text-anchor="middle">**</text>
<text class="aa" transform="translate(535.7 924.8) scale(1.03 1)" text-anchor="middle">a</text>
<text class="st" transform="translate(602.4 849) scale(1.09 1)" text-anchor="middle">*</text>
<text class="st" transform="translate(642.1 872.6) scale(1.09 1)" text-anchor="middle">*</text>
<text class="st" transform="translate(661.2 894.4) scale(1.09 1)" text-anchor="middle">**</text>
<text class="st" transform="translate(682 887.4) scale(1.09 1)" text-anchor="middle">*</text>
<text class="st" transform="translate(701.3 905.6) scale(1.09 1)" text-anchor="middle">**</text>
<text class="aa" transform="translate(724 931.8) scale(1.03 1)" text-anchor="middle">aa</text>
<text class="st" transform="translate(726.1 956.6) scale(1.09 1)" text-anchor="middle">***</text>
<path class="ln" d="M451 881.2H543.8"/>
<g transform="translate(1066.5 1037.3)">
<text class="ttl" transform="translate(270.6 -360.1) scale(0.966 1.096)" text-anchor="middle">PLum-AI</text>
<text class="yl" transform="translate(-67.3 -154.4) rotate(-90)" text-anchor="middle">Cell Proliferation (% <tspan dx="1.6">of</tspan> Control)</text>
<rect class="b0" x="10.75" y="-206.2" width="12.2" height="206.2"/>
<text class="xl" transform="translate(21.85 9.2) rotate(-90) scale(0.985 1.055)" text-anchor="end">PXM 0</text>
<path class="eb" d="M36.62 -206.61V-209.29M33.22 -209.29H40.02"/>
<rect class="b0" x="30.52" y="-206.61" width="12.2" height="206.61"/>
<path class="bt" d="M29.52 -206.01H43.72"/>
<text class="xl" transform="translate(41.62 9.2) rotate(-90) scale(0.985 1.055)" text-anchor="end">PXM 250</text>
<path class="eb" d="M56.39 -170.32V-183.52M52.99 -183.52H59.79"/>
<rect class="b0" x="50.29" y="-170.32" width="12.2" height="170.32"/>
<path class="bt" d="M49.29 -169.72H63.49"/>
<text class="xl" transform="translate(61.39 9.2) rotate(-90) scale(0.985 1.055)" text-anchor="end">PXM 500</text>
<path class="eb" d="M76.16 -151.35V-159.8M72.76 -159.8H79.56"/>
<rect class="b0" x="70.06" y="-151.35" width="12.2" height="151.35"/>
<path class="bt" d="M69.06 -150.75H83.26"/>
<text class="xl" transform="translate(81.16 9.2) rotate(-90) scale(0.985 1.055)" text-anchor="end">PXM 750</text>
<path class="eb" d="M95.93 -117.74V-127.64M92.53 -127.64H99.33"/>
<rect class="b0" x="89.83" y="-117.74" width="12.2" height="117.74"/>
<path class="bt" d="M88.83 -117.14H103.03"/>
<text class="xl" transform="translate(100.93 9.2) rotate(-90) scale(0.985 1.055)" text-anchor="end">PXM 0</text>
<path class="eb" d="M115.7 -172.59V-179.81M112.3 -179.81H119.1"/>
<rect class="b0" x="109.6" y="-172.59" width="12.2" height="172.59"/>
<path class="bt" d="M108.6 -171.99H122.8"/>
<text class="xl" transform="translate(120.7 9.2) rotate(-90) scale(0.985 1.055)" text-anchor="end">PXM 250</text>
<path class="eb" d="M135.47 -139.6V-140.83M132.07 -140.83H138.87"/>
<rect class="b0" x="129.37" y="-139.6" width="12.2" height="139.6"/>
<path class="bt" d="M128.37 -139H142.57"/>
<text class="xl" transform="translate(140.47 9.2) rotate(-90) scale(0.985 1.055)" text-anchor="end">PXM 500</text>
<path class="eb" d="M155.24 -129.08V-136.09M151.84 -136.09H158.64"/>
<rect class="b0" x="149.14" y="-129.08" width="12.2" height="129.08"/>
<path class="bt" d="M148.14 -128.48H162.34"/>
<text class="xl" transform="translate(160.24 9.2) rotate(-90) scale(0.985 1.055)" text-anchor="end">PXM 750</text>
<path class="ln" d="M88.4 102.1H162.5"/>
<text class="tk" transform="translate(124.9 127.9) scale(1.035 1)" text-anchor="middle">+ Doc 5</text>
<text class="tk" transform="translate(125.3 152.9) scale(1.02 1)" text-anchor="middle">(nM)</text>
<rect class="b1" x="195.75" y="-205.5" width="11.4" height="205.5"/>
<text class="xl" transform="translate(206.45 9.2) rotate(-90) scale(0.985 1.055)" text-anchor="end">PXM 0</text>
<path class="eb" d="M221.22 -224.14V-246.82M217.82 -246.82H224.62"/>
<rect class="b1" x="215.52" y="-223.44" width="11.4" height="223.44"/>
<path class="bt" d="M214.12 -223.54H228.32"/>
<text class="xl" transform="translate(226.22 9.2) rotate(-90) scale(0.985 1.055)" text-anchor="end">PXM 250</text>
<path class="eb" d="M240.99 -164.34V-181.87M237.59 -181.87H244.39"/>
<rect class="b1" x="235.29" y="-163.64" width="11.4" height="163.64"/>
<path class="bt" d="M233.89 -163.74H248.09"/>
<text class="xl" transform="translate(245.99 9.2) rotate(-90) scale(0.985 1.055)" text-anchor="end">PXM 500</text>
<path class="eb" d="M260.76 -110.52V-127.84M257.36 -127.84H264.16"/>
<rect class="b1" x="255.06" y="-109.82" width="11.4" height="109.82"/>
<path class="bt" d="M253.66 -109.92H267.86"/>
<text class="xl" transform="translate(265.76 9.2) rotate(-90) scale(0.985 1.055)" text-anchor="end">PXM 750</text>
<path class="eb" d="M280.53 -64.13V-75.47M277.13 -75.47H283.93"/>
<rect class="b1" x="274.83" y="-63.43" width="11.4" height="63.43"/>
<path class="bt" d="M273.43 -63.53H287.63"/>
<text class="xl" transform="translate(285.53 9.2) rotate(-90) scale(0.985 1.055)" text-anchor="end">PXM 0</text>
<path class="eb" d="M300.3 -74.44V-81.45M296.9 -81.45H303.7"/>
<rect class="b1" x="294.6" y="-73.74" width="11.4" height="73.74"/>
<path class="bt" d="M293.2 -73.84H307.4"/>
<text class="xl" transform="translate(305.3 9.2) rotate(-90) scale(0.985 1.055)" text-anchor="end">PXM 250</text>
<path class="eb" d="M320.07 -54.64V-60.42M316.67 -60.42H323.47"/>
<rect class="b1" x="314.37" y="-53.94" width="11.4" height="53.94"/>
<path class="bt" d="M312.97 -54.04H327.17"/>
<text class="xl" transform="translate(325.07 9.2) rotate(-90) scale(0.985 1.055)" text-anchor="end">PXM 500</text>
<path class="eb" d="M339.84 -46.39V-48.66M336.44 -48.66H343.24"/>
<rect class="b1" x="334.14" y="-45.69" width="11.4" height="45.69"/>
<path class="bt" d="M332.74 -45.79H346.94"/>
<text class="xl" transform="translate(344.84 9.2) rotate(-90) scale(0.985 1.055)" text-anchor="end">PXM 750</text>
<path class="ln" d="M272.4 102.1H346.7"/>
<text class="tk" transform="translate(309.2 127.9) scale(1.035 1)" text-anchor="middle">+ Doc 5</text>
<text class="tk" transform="translate(309.7 152.9) scale(1.02 1)" text-anchor="middle">(nM)</text>
<rect class="b2" x="380.35" y="-205.5" width="11.4" height="205.5"/>
<text class="xl" transform="translate(391.05 9.2) rotate(-90) scale(0.985 1.055)" text-anchor="end">PXM 0</text>
<path class="eb" d="M405.82 -200.22V-207.02M402.42 -207.02H409.22"/>
<rect class="b2" x="400.12" y="-199.52" width="11.4" height="199.52"/>
<path class="bt" d="M398.72 -199.62H412.92"/>
<text class="xl" transform="translate(410.82 9.2) rotate(-90) scale(0.985 1.055)" text-anchor="end">PXM 250</text>
<path class="eb" d="M425.59 -188.88V-197.54M422.19 -197.54H428.99"/>
<rect class="b2" x="419.89" y="-188.18" width="11.4" height="188.18"/>
<path class="bt" d="M418.49 -188.28H432.69"/>
<text class="xl" transform="translate(430.59 9.2) rotate(-90) scale(0.985 1.055)" text-anchor="end">PXM 500</text>
<path class="eb" d="M445.36 -99.18V-108.87M441.96 -108.87H448.76"/>
<rect class="b2" x="439.66" y="-98.48" width="11.4" height="98.48"/>
<path class="bt" d="M438.26 -98.58H452.46"/>
<text class="xl" transform="translate(450.36 9.2) rotate(-90) scale(0.985 1.055)" text-anchor="end">PXM 750</text>
<path class="eb" d="M465.13 -60.83V-70.73M461.73 -70.73H468.53"/>
<rect class="b2" x="459.43" y="-60.13" width="11.4" height="60.13"/>
<path class="bt" d="M458.03 -60.23H472.23"/>
<text class="xl" transform="translate(470.13 9.2) rotate(-90) scale(0.985 1.055)" text-anchor="end">PXM 0</text>
<path class="eb" d="M484.9 -55.67V-62.07M481.5 -62.07H488.3"/>
<rect class="b2" x="479.2" y="-54.97" width="11.4" height="54.97"/>
<path class="bt" d="M477.8 -55.07H492"/>
<text class="xl" transform="translate(489.9 9.2) rotate(-90) scale(0.985 1.055)" text-anchor="end">PXM 250</text>
<path class="eb" d="M504.67 -42.27V-48.25M501.27 -48.25H508.07"/>
<rect class="b2" x="498.97" y="-41.57" width="11.4" height="41.57"/>
<path class="bt" d="M497.57 -41.67H511.77"/>
<text class="xl" transform="translate(509.67 9.2) rotate(-90) scale(0.985 1.055)" text-anchor="end">PXM 500</text>
<path class="eb" d="M524.44 -25.77V-26.81M521.04 -26.81H527.84"/>
<rect class="b2" x="518.74" y="-25.07" width="11.4" height="25.07"/>
<path class="bt" d="M517.34 -25.17H531.54"/>
<text class="xl" transform="translate(529.44 9.2) rotate(-90) scale(0.985 1.055)" text-anchor="end">PXM 750</text>
<path class="ln" d="M459.5 102.1H533.3"/>
<text class="tk" transform="translate(495.9 127.9) scale(1.035 1)" text-anchor="middle">+ Doc 5</text>
<text class="tk" transform="translate(496.3 152.9) scale(1.02 1)" text-anchor="middle">(nM)</text>
<path class="ax" d="M0 -309.9V0.6M-8.2 0H543.3"/>
<text class="yt" transform="translate(-11.2 6.2) scale(1 1.05)" text-anchor="end">0</text>
<path class="ax" d="M-8.2 -51.55H0"/>
<text class="yt" transform="translate(-11.2 -45.35) scale(1 1.05)" text-anchor="end">25</text>
<path class="ax" d="M-8.2 -103.1H0"/>
<text class="yt" transform="translate(-11.2 -96.9) scale(1 1.05)" text-anchor="end">50</text>
<path class="ax" d="M-8.2 -154.65H0"/>
<text class="yt" transform="translate(-11.2 -148.45) scale(1 1.05)" text-anchor="end">75</text>
<path class="ax" d="M-8.2 -206.2H0"/>
<text class="yt" transform="translate(-11.2 -200) scale(1 1.05)" text-anchor="end">100</text>
<path class="ax" d="M-8.2 -257.75H0"/>
<text class="yt" transform="translate(-11.2 -251.55) scale(1 1.05)" text-anchor="end">125</text>
<path class="ax" d="M-8.2 -309.3H0"/>
<text class="yt" transform="translate(-11.2 -303.1) scale(1 1.05)" text-anchor="end">150</text>
<text class="tk" transform="translate(557.2 30.9) scale(1.16 1.05)">(<tspan class="mu">μ</tspan>M)</text>
<rect class="lg0" x="562.5" y="-289.3" width="32" height="9.6"/>
<text class="lt" transform="translate(612.6 -277.7) scale(1.027 1)">24 hrs</text>
<rect class="lg1" x="562.5" y="-258.2" width="32" height="9.6"/>
<text class="lt" transform="translate(612.6 -246.6) scale(1.027 1)">48 hrs</text>
<rect class="lg2" x="562.5" y="-227.1" width="32" height="9.6"/>
<text class="lt" transform="translate(612.6 -215.5) scale(1.027 1)">72 hrs</text>
</g>
<text class="st" transform="translate(1163 900.9) scale(1.09 1)" text-anchor="middle">*</text>
<text class="aa" transform="translate(1181.2 840.1) scale(1.03 1)" text-anchor="middle">a</text>
<text class="st" transform="translate(1206.1 887.6) scale(1.09 1)" text-anchor="middle">***</text>
<text class="st" transform="translate(1222.9 900.9) scale(1.09 1)" text-anchor="middle">*</text>
<text class="st" transform="translate(1347.4 951.3) scale(1.09 1)" text-anchor="middle">*</text>
<text class="st" transform="translate(1378.1 947.6) scale(1.09 1)" text-anchor="middle">**</text>
<text class="st" transform="translate(1412 980.2) scale(1.09 1)" text-anchor="middle">***</text>
<text class="st" transform="translate(1512.5 919.7) scale(1.09 1)" text-anchor="middle">*</text>
<text class="st" transform="translate(1532.9 957.1) scale(1.09 1)" text-anchor="middle">*</text>
<text class="st" transform="translate(1562.1 964.8) scale(1.09 1)" text-anchor="middle">**</text>
<text class="st" transform="translate(1597.4 1000.2) scale(1.09 1)" text-anchor="middle">***</text>
<path class="ln" d="M1361.6 947.2H1394.6"/>
<path class="ln" d="M1545.8 964.8H1578.1"/>
<g transform="translate(199 1659.5)">
<text class="ttl" transform="translate(271.7 -360.1) scale(0.995 1.096)" text-anchor="middle">PLum-AD</text>
<text class="yl" transform="translate(-67.3 -154.4) rotate(-90)" text-anchor="middle">Cell Proliferation (% <tspan dx="1.6">of</tspan> Control)</text>
<rect class="b0" x="11.1" y="-206.2" width="12.2" height="206.2"/>
<text class="xl" transform="translate(22.2 10.4) rotate(-90) scale(0.985 1.055)" text-anchor="end">PXM 0</text>
<path class="eb" d="M36.97 -217.13V-228.26M33.57 -228.26H40.37"/>
<rect class="b0" x="30.87" y="-217.13" width="12.2" height="217.13"/>
<path class="bt" d="M29.87 -216.53H44.07"/>
<text class="xl" transform="translate(41.97 10.4) rotate(-90) scale(0.985 1.055)" text-anchor="end">PXM 250</text>
<path class="eb" d="M56.74 -204.76V-219.81M53.34 -219.81H60.14"/>
<rect class="b0" x="50.64" y="-204.76" width="12.2" height="204.76"/>
<path class="bt" d="M49.64 -204.16H63.84"/>
<text class="xl" transform="translate(61.74 10.4) rotate(-90) scale(0.985 1.055)" text-anchor="end">PXM 500</text>
<path class="eb" d="M76.51 -187.02V-198.98M73.11 -198.98H79.91"/>
<rect class="b0" x="70.41" y="-187.02" width="12.2" height="187.02"/>
<path class="bt" d="M69.41 -186.42H83.61"/>
<text class="xl" transform="translate(81.51 10.4) rotate(-90) scale(0.985 1.055)" text-anchor="end">PXM 750</text>
<path class="eb" d="M96.28 -167.23V-177.13M92.88 -177.13H99.68"/>
<rect class="b0" x="90.18" y="-167.23" width="12.2" height="167.23"/>
<path class="bt" d="M89.18 -166.63H103.38"/>
<text class="xl" transform="translate(101.28 10.4) rotate(-90) scale(0.985 1.055)" text-anchor="end">PXM 0</text>
<path class="eb" d="M116.05 -210.74V-228.26M112.65 -228.26H119.45"/>
<rect class="b0" x="109.95" y="-210.74" width="12.2" height="210.74"/>
<path class="bt" d="M108.95 -210.14H123.15"/>
<text class="xl" transform="translate(121.05 10.4) rotate(-90) scale(0.985 1.055)" text-anchor="end">PXM 250</text>
<path class="eb" d="M135.82 -187.02V-207.64M132.42 -207.64H139.22"/>
<rect class="b0" x="129.72" y="-187.02" width="12.2" height="187.02"/>
<path class="bt" d="M128.72 -186.42H142.92"/>
<text class="xl" transform="translate(140.82 10.4) rotate(-90) scale(0.985 1.055)" text-anchor="end">PXM 500</text>
<path class="eb" d="M155.59 -174.65V-193.83M152.19 -193.83H158.99"/>
<rect class="b0" x="149.49" y="-174.65" width="12.2" height="174.65"/>
<path class="bt" d="M148.49 -174.05H162.69"/>
<text class="xl" transform="translate(160.59 10.4) rotate(-90) scale(0.985 1.055)" text-anchor="end">PXM 750</text>
<path class="ln" d="M91.8 103.5H165.3"/>
<text class="tk" transform="translate(128 128.8) scale(1.035 1)" text-anchor="middle">+ Doc 10</text>
<text class="tk" transform="translate(127.9 153.6) scale(1.02 1)" text-anchor="middle">(nM)</text>
<rect class="b1" x="196.1" y="-205.5" width="11.4" height="205.5"/>
<text class="xl" transform="translate(206.8 10.4) rotate(-90) scale(0.985 1.055)" text-anchor="end">PXM 0</text>
<path class="eb" d="M221.57 -198.16V-207.85M218.17 -207.85H224.97"/>
<rect class="b1" x="215.87" y="-197.46" width="11.4" height="197.46"/>
<path class="bt" d="M214.47 -197.56H228.67"/>
<text class="xl" transform="translate(226.57 10.4) rotate(-90) scale(0.985 1.055)" text-anchor="end">PXM 250</text>
<path class="eb" d="M241.34 -176.51V-180.22M237.94 -180.22H244.74"/>
<rect class="b1" x="235.64" y="-175.81" width="11.4" height="175.81"/>
<path class="bt" d="M234.24 -175.91H248.44"/>
<text class="xl" transform="translate(246.34 10.4) rotate(-90) scale(0.985 1.055)" text-anchor="end">PXM 500</text>
<path class="eb" d="M261.11 -133.21V-139.39M257.71 -139.39H264.51"/>
<rect class="b1" x="255.41" y="-132.51" width="11.4" height="132.51"/>
<path class="bt" d="M254.01 -132.61H268.21"/>
<text class="xl" transform="translate(266.11 10.4) rotate(-90) scale(0.985 1.055)" text-anchor="end">PXM 750</text>
<path class="eb" d="M280.88 -97.94V-105.37M277.48 -105.37H284.28"/>
<rect class="b1" x="275.18" y="-97.24" width="11.4" height="97.24"/>
<path class="bt" d="M273.78 -97.34H287.98"/>
<text class="xl" transform="translate(285.88 10.4) rotate(-90) scale(0.985 1.055)" text-anchor="end">PXM 0</text>
<path class="eb" d="M300.65 -112.38V-117.74M297.25 -117.74H304.05"/>
<rect class="b1" x="294.95" y="-111.68" width="11.4" height="111.68"/>
<path class="bt" d="M293.55 -111.78H307.75"/>
<text class="xl" transform="translate(305.65 10.4) rotate(-90) scale(0.985 1.055)" text-anchor="end">PXM 250</text>
<path class="eb" d="M320.42 -89.9V-96.91M317.02 -96.91H323.82"/>
<rect class="b1" x="314.72" y="-89.2" width="11.4" height="89.2"/>
<path class="bt" d="M313.32 -89.3H327.52"/>
<text class="xl" transform="translate(325.42 10.4) rotate(-90) scale(0.985 1.055)" text-anchor="end">PXM 500</text>
<path class="eb" d="M340.19 -77.32V-88.87M336.79 -88.87H343.59"/>
<rect class="b1" x="334.49" y="-76.62" width="11.4" height="76.62"/>
<path class="bt" d="M333.09 -76.72H347.29"/>
<text class="xl" transform="translate(345.19 10.4) rotate(-90) scale(0.985 1.055)" text-anchor="end">PXM 750</text>
<path class="ln" d="M275.5 103.5H349.5"/>
<text class="tk" transform="translate(312.2 128.8) scale(1.035 1)" text-anchor="middle">+ Doc 10</text>
<text class="tk" transform="translate(312.2 153.6) scale(1.02 1)" text-anchor="middle">(nM)</text>
<rect class="b2" x="380.7" y="-205.5" width="11.4" height="205.5"/>
<text class="xl" transform="translate(391.4 10.4) rotate(-90) scale(0.985 1.055)" text-anchor="end">PXM 0</text>
<path class="eb" d="M406.17 -171.35V-178.36M402.77 -178.36H409.57"/>
<rect class="b2" x="400.47" y="-170.65" width="11.4" height="170.65"/>
<path class="bt" d="M399.07 -170.75H413.27"/>
<text class="xl" transform="translate(411.17 10.4) rotate(-90) scale(0.985 1.055)" text-anchor="end">PXM 250</text>
<path class="eb" d="M425.94 -165.17V-174.65M422.54 -174.65H429.34"/>
<rect class="b2" x="420.24" y="-164.47" width="11.4" height="164.47"/>
<path class="bt" d="M418.84 -164.57H433.04"/>
<text class="xl" transform="translate(430.94 10.4) rotate(-90) scale(0.985 1.055)" text-anchor="end">PXM 500</text>
<path class="eb" d="M445.71 -144.75V-153.62M442.31 -153.62H449.11"/>
<rect class="b2" x="440.01" y="-144.05" width="11.4" height="144.05"/>
<path class="bt" d="M438.61 -144.15H452.81"/>
<text class="xl" transform="translate(450.71 10.4) rotate(-90) scale(0.985 1.055)" text-anchor="end">PXM 750</text>
<path class="eb" d="M465.48 -102.07V-108.25M462.08 -108.25H468.88"/>
<rect class="b2" x="459.78" y="-101.37" width="11.4" height="101.37"/>
<path class="bt" d="M458.38 -101.47H472.58"/>
<text class="xl" transform="translate(470.48 10.4) rotate(-90) scale(0.985 1.055)" text-anchor="end">PXM 0</text>
<path class="eb" d="M485.25 -105.16V-113.41M481.85 -113.41H488.65"/>
<rect class="b2" x="479.55" y="-104.46" width="11.4" height="104.46"/>
<path class="bt" d="M478.15 -104.56H492.35"/>
<text class="xl" transform="translate(490.25 10.4) rotate(-90) scale(0.985 1.055)" text-anchor="end">PXM 250</text>
<path class="eb" d="M505.02 -86.6V-91.35M501.62 -91.35H508.42"/>
<rect class="b2" x="499.32" y="-85.9" width="11.4" height="85.9"/>
<path class="bt" d="M497.92 -86H512.12"/>
<text class="xl" transform="translate(510.02 10.4) rotate(-90) scale(0.985 1.055)" text-anchor="end">PXM 500</text>
<path class="eb" d="M524.79 -58.77V-60.83M521.39 -60.83H528.19"/>
<rect class="b2" x="519.09" y="-58.07" width="11.4" height="58.07"/>
<path class="bt" d="M517.69 -58.17H531.89"/>
<text class="xl" transform="translate(529.79 10.4) rotate(-90) scale(0.985 1.055)" text-anchor="end">PXM 750</text>
<path class="ln" d="M459.6 103.5H533.6"/>
<text class="tk" transform="translate(496 128.8) scale(1.035 1)" text-anchor="middle">+ Doc 10</text>
<text class="tk" transform="translate(496.3 153.6) scale(1.02 1)" text-anchor="middle">(nM)</text>
<path class="ax" d="M0 -309.9V0.6M-8.2 0H543.3"/>
<text class="yt" transform="translate(-11.2 6.2) scale(1 1.05)" text-anchor="end">0</text>
<path class="ax" d="M-8.2 -51.55H0"/>
<text class="yt" transform="translate(-11.2 -45.35) scale(1 1.05)" text-anchor="end">25</text>
<path class="ax" d="M-8.2 -103.1H0"/>
<text class="yt" transform="translate(-11.2 -96.9) scale(1 1.05)" text-anchor="end">50</text>
<path class="ax" d="M-8.2 -154.65H0"/>
<text class="yt" transform="translate(-11.2 -148.45) scale(1 1.05)" text-anchor="end">75</text>
<path class="ax" d="M-8.2 -206.2H0"/>
<text class="yt" transform="translate(-11.2 -200) scale(1 1.05)" text-anchor="end">100</text>
<path class="ax" d="M-8.2 -257.75H0"/>
<text class="yt" transform="translate(-11.2 -251.55) scale(1 1.05)" text-anchor="end">125</text>
<path class="ax" d="M-8.2 -309.3H0"/>
<text class="yt" transform="translate(-11.2 -303.1) scale(1 1.05)" text-anchor="end">150</text>
<text class="tk" transform="translate(557.2 30.9) scale(1.16 1.05)">(<tspan class="mu">μ</tspan>M)</text>
<rect class="lg0" x="562.5" y="-289.3" width="32" height="9.6"/>
<text class="lt" transform="translate(612.6 -277.7) scale(1.027 1)">24 hrs</text>
<rect class="lg1" x="562.5" y="-258.2" width="32" height="9.6"/>
<text class="lt" transform="translate(612.6 -246.6) scale(1.027 1)">48 hrs</text>
<rect class="lg2" x="562.5" y="-227.1" width="32" height="9.6"/>
<text class="lt" transform="translate(612.6 -215.5) scale(1.027 1)">72 hrs</text>
</g>
<text class="st" transform="translate(439.8 1470.5) scale(1.09 1)" text-anchor="middle">*</text>
<text class="st" transform="translate(469.9 1509.7) scale(1.09 1)" text-anchor="middle">**</text>
<text class="st" transform="translate(501 1533.1) scale(1.09 1)" text-anchor="middle">***</text>
<text class="st" transform="translate(531 1552) scale(1.09 1)" text-anchor="middle">**</text>
<text class="st" transform="translate(605.6 1472.6) scale(1.09 1)" text-anchor="middle">*</text>
<text class="st" transform="translate(645.3 1496.2) scale(1.09 1)" text-anchor="middle">*</text>
<text class="st" transform="translate(674.7 1537.6) scale(1.09 1)" text-anchor="middle">**</text>
<text class="st" transform="translate(715.9 1557.3) scale(1.09 1)" text-anchor="middle">***</text>
<text class="aa" transform="translate(724.9 1584.4) scale(1.03 1)" text-anchor="middle">a</text>
<path class="ln" d="M453.3 1509.5H485.9"/>
<path class="ln" d="M513.8 1551.8H546.6"/>
<path class="ln" d="M657.5 1536.3H691.6"/>
<path class="ln" d="M699.1 1557.1H732.6"/>
<g transform="translate(1068.5 1659.5)">
<text class="ttl" transform="translate(270.6 -360.1) scale(0.966 1.096)" text-anchor="middle">PLum-AI</text>
<text class="yl" transform="translate(-67.3 -154.4) rotate(-90)" text-anchor="middle">Cell Proliferation (% <tspan dx="1.6">of</tspan> Control)</text>
<rect class="b0" x="10.75" y="-206.2" width="12.2" height="206.2"/>
<text class="xl" transform="translate(21.85 10.3) rotate(-90) scale(0.985 1.055)" text-anchor="end">PXM 0</text>
<path class="eb" d="M36.62 -206.61V-209.29M33.22 -209.29H40.02"/>
<rect class="b0" x="30.52" y="-206.61" width="12.2" height="206.61"/>
<path class="bt" d="M29.52 -206.01H43.72"/>
<text class="xl" transform="translate(41.62 10.3) rotate(-90) scale(0.985 1.055)" text-anchor="end">PXM 250</text>
<path class="eb" d="M56.39 -170.32V-183.52M52.99 -183.52H59.79"/>
<rect class="b0" x="50.29" y="-170.32" width="12.2" height="170.32"/>
<path class="bt" d="M49.29 -169.72H63.49"/>
<text class="xl" transform="translate(61.39 10.3) rotate(-90) scale(0.985 1.055)" text-anchor="end">PXM 500</text>
<path class="eb" d="M76.16 -151.35V-159.8M72.76 -159.8H79.56"/>
<rect class="b0" x="70.06" y="-151.35" width="12.2" height="151.35"/>
<path class="bt" d="M69.06 -150.75H83.26"/>
<text class="xl" transform="translate(81.16 10.3) rotate(-90) scale(0.985 1.055)" text-anchor="end">PXM 750</text>
<path class="eb" d="M95.93 -102.28V-114.44M92.53 -114.44H99.33"/>
<rect class="b0" x="89.83" y="-102.28" width="12.2" height="102.28"/>
<path class="bt" d="M88.83 -101.68H103.03"/>
<text class="xl" transform="translate(100.93 10.3) rotate(-90) scale(0.985 1.055)" text-anchor="end">PXM 0</text>
<path class="eb" d="M115.7 -126.19V-136.3M112.3 -136.3H119.1"/>
<rect class="b0" x="109.6" y="-126.19" width="12.2" height="126.19"/>
<path class="bt" d="M108.6 -125.59H122.8"/>
<text class="xl" transform="translate(120.7 10.3) rotate(-90) scale(0.985 1.055)" text-anchor="end">PXM 250</text>
<path class="eb" d="M135.47 -105.37V-113.2M132.07 -113.2H138.87"/>
<rect class="b0" x="129.37" y="-105.37" width="12.2" height="105.37"/>
<path class="bt" d="M128.37 -104.77H142.57"/>
<text class="xl" transform="translate(140.47 10.3) rotate(-90) scale(0.985 1.055)" text-anchor="end">PXM 500</text>
<path class="eb" d="M155.24 -100.21V-106.61M151.84 -106.61H158.64"/>
<rect class="b0" x="149.14" y="-100.21" width="12.2" height="100.21"/>
<path class="bt" d="M148.14 -99.61H162.34"/>
<text class="xl" transform="translate(160.24 10.3) rotate(-90) scale(0.985 1.055)" text-anchor="end">PXM 750</text>
<path class="ln" d="M91.8 103.3H165.3"/>
<text class="tk" transform="translate(128 128.8) scale(1.035 1)" text-anchor="middle">+ Doc 10</text>
<text class="tk" transform="translate(127.9 153.4) scale(1.02 1)" text-anchor="middle">(nM)</text>
<rect class="b1" x="195.75" y="-205.5" width="11.4" height="205.5"/>
<text class="xl" transform="translate(206.45 10.3) rotate(-90) scale(0.985 1.055)" text-anchor="end">PXM 0</text>
<path class="eb" d="M221.22 -224.14V-246.82M217.82 -246.82H224.62"/>
<rect class="b1" x="215.52" y="-223.44" width="11.4" height="223.44"/>
<path class="bt" d="M214.12 -223.54H228.32"/>
<text class="xl" transform="translate(226.22 10.3) rotate(-90) scale(0.985 1.055)" text-anchor="end">PXM 250</text>
<path class="eb" d="M240.99 -164.34V-181.87M237.59 -181.87H244.39"/>
<rect class="b1" x="235.29" y="-163.64" width="11.4" height="163.64"/>
<path class="bt" d="M233.89 -163.74H248.09"/>
<text class="xl" transform="translate(245.99 10.3) rotate(-90) scale(0.985 1.055)" text-anchor="end">PXM 500</text>
<path class="eb" d="M260.76 -110.52V-127.84M257.36 -127.84H264.16"/>
<rect class="b1" x="255.06" y="-109.82" width="11.4" height="109.82"/>
<path class="bt" d="M253.66 -109.92H267.86"/>
<text class="xl" transform="translate(265.76 10.3) rotate(-90) scale(0.985 1.055)" text-anchor="end">PXM 750</text>
<path class="eb" d="M280.53 -57.94V-67.63M277.13 -67.63H283.93"/>
<rect class="b1" x="274.83" y="-57.24" width="11.4" height="57.24"/>
<path class="bt" d="M273.43 -57.34H287.63"/>
<text class="xl" transform="translate(285.53 10.3) rotate(-90) scale(0.985 1.055)" text-anchor="end">PXM 0</text>
<path class="eb" d="M300.3 -59.8V-63.92M296.9 -63.92H303.7"/>
<rect class="b1" x="294.6" y="-59.1" width="11.4" height="59.1"/>
<path class="bt" d="M293.2 -59.2H307.4"/>
<text class="xl" transform="translate(305.3 10.3) rotate(-90) scale(0.985 1.055)" text-anchor="end">PXM 250</text>
<path class="eb" d="M320.07 -38.97V-41.86M316.67 -41.86H323.47"/>
<rect class="b1" x="314.37" y="-38.27" width="11.4" height="38.27"/>
<path class="bt" d="M312.97 -38.37H327.17"/>
<text class="xl" transform="translate(325.07 10.3) rotate(-90) scale(0.985 1.055)" text-anchor="end">PXM 500</text>
<path class="eb" d="M339.84 -36.08V-39.59M336.44 -39.59H343.24"/>
<rect class="b1" x="334.14" y="-35.38" width="11.4" height="35.38"/>
<path class="bt" d="M332.74 -35.48H346.94"/>
<text class="xl" transform="translate(344.84 10.3) rotate(-90) scale(0.985 1.055)" text-anchor="end">PXM 750</text>
<path class="ln" d="M275.5 103.3H349.5"/>
<text class="tk" transform="translate(312.2 128.8) scale(1.035 1)" text-anchor="middle">+ Doc 10</text>
<text class="tk" transform="translate(312.2 153.4) scale(1.02 1)" text-anchor="middle">(nM)</text>
<rect class="b2" x="380.35" y="-205.5" width="11.4" height="205.5"/>
<text class="xl" transform="translate(391.05 10.3) rotate(-90) scale(0.985 1.055)" text-anchor="end">PXM 0</text>
<path class="eb" d="M405.82 -200.22V-207.02M402.42 -207.02H409.22"/>
<rect class="b2" x="400.12" y="-199.52" width="11.4" height="199.52"/>
<path class="bt" d="M398.72 -199.62H412.92"/>
<text class="xl" transform="translate(410.82 10.3) rotate(-90) scale(0.985 1.055)" text-anchor="end">PXM 250</text>
<path class="eb" d="M425.59 -188.88V-197.54M422.19 -197.54H428.99"/>
<rect class="b2" x="419.89" y="-188.18" width="11.4" height="188.18"/>
<path class="bt" d="M418.49 -188.28H432.69"/>
<text class="xl" transform="translate(430.59 10.3) rotate(-90) scale(0.985 1.055)" text-anchor="end">PXM 500</text>
<path class="eb" d="M445.36 -99.18V-108.87M441.96 -108.87H448.76"/>
<rect class="b2" x="439.66" y="-98.48" width="11.4" height="98.48"/>
<path class="bt" d="M438.26 -98.58H452.46"/>
<text class="xl" transform="translate(450.36 10.3) rotate(-90) scale(0.985 1.055)" text-anchor="end">PXM 750</text>
<path class="eb" d="M465.13 -40V-49.08M461.73 -49.08H468.53"/>
<rect class="b2" x="459.43" y="-39.3" width="11.4" height="39.3"/>
<path class="bt" d="M458.03 -39.4H472.23"/>
<text class="xl" transform="translate(470.13 10.3) rotate(-90) scale(0.985 1.055)" text-anchor="end">PXM 0</text>
<path class="eb" d="M484.9 -45.16V-51.76M481.5 -51.76H488.3"/>
<rect class="b2" x="479.2" y="-44.46" width="11.4" height="44.46"/>
<path class="bt" d="M477.8 -44.56H492"/>
<text class="xl" transform="translate(489.9 10.3) rotate(-90) scale(0.985 1.055)" text-anchor="end">PXM 250</text>
<path class="eb" d="M504.67 -29.9V-35.88M501.27 -35.88H508.07"/>
<rect class="b2" x="498.97" y="-29.2" width="11.4" height="29.2"/>
<path class="bt" d="M497.57 -29.3H511.77"/>
<text class="xl" transform="translate(509.67 10.3) rotate(-90) scale(0.985 1.055)" text-anchor="end">PXM 500</text>
<path class="eb" d="M524.44 -20.41V-23.51M521.04 -23.51H527.84"/>
<rect class="b2" x="518.74" y="-19.71" width="11.4" height="19.71"/>
<path class="bt" d="M517.34 -19.81H531.54"/>
<text class="xl" transform="translate(529.44 10.3) rotate(-90) scale(0.985 1.055)" text-anchor="end">PXM 750</text>
<path class="ln" d="M459.6 103.3H533.6"/>
<text class="tk" transform="translate(496 128.8) scale(1.035 1)" text-anchor="middle">+ Doc 10</text>
<text class="tk" transform="translate(496.3 153.4) scale(1.02 1)" text-anchor="middle">(nM)</text>
<path class="ax" d="M0 -309.9V0.6M-8.2 0H543.3"/>
<text class="yt" transform="translate(-11.2 6.2) scale(1 1.05)" text-anchor="end">0</text>
<path class="ax" d="M-8.2 -51.55H0"/>
<text class="yt" transform="translate(-11.2 -45.35) scale(1 1.05)" text-anchor="end">25</text>
<path class="ax" d="M-8.2 -103.1H0"/>
<text class="yt" transform="translate(-11.2 -96.9) scale(1 1.05)" text-anchor="end">50</text>
<path class="ax" d="M-8.2 -154.65H0"/>
<text class="yt" transform="translate(-11.2 -148.45) scale(1 1.05)" text-anchor="end">75</text>
<path class="ax" d="M-8.2 -206.2H0"/>
<text class="yt" transform="translate(-11.2 -200) scale(1 1.05)" text-anchor="end">100</text>
<path class="ax" d="M-8.2 -257.75H0"/>
<text class="yt" transform="translate(-11.2 -251.55) scale(1 1.05)" text-anchor="end">125</text>
<path class="ax" d="M-8.2 -309.3H0"/>
<text class="yt" transform="translate(-11.2 -303.1) scale(1 1.05)" text-anchor="end">150</text>
<text class="tk" transform="translate(557.2 30.9) scale(1.16 1.05)">(<tspan class="mu">μ</tspan>M)</text>
<rect class="lg0" x="562.5" y="-289.3" width="32" height="9.6"/>
<text class="lt" transform="translate(612.6 -277.7) scale(1.027 1)">24 hrs</text>
<rect class="lg1" x="562.5" y="-258.2" width="32" height="9.6"/>
<text class="lt" transform="translate(612.6 -246.6) scale(1.027 1)">48 hrs</text>
<rect class="lg2" x="562.5" y="-227.1" width="32" height="9.6"/>
<text class="lt" transform="translate(612.6 -215.5) scale(1.027 1)">72 hrs</text>
</g>
<text class="st" transform="translate(1185.5 1512.3) scale(1.09 1)" text-anchor="middle">*</text>
<text class="st" transform="translate(1224.3 1543) scale(1.09 1)" text-anchor="middle">**</text>
<text class="st" transform="translate(1349.6 1582.6) scale(1.09 1)" text-anchor="middle">*</text>
<text class="st" transform="translate(1370.6 1585.8) scale(1.09 1)" text-anchor="middle">**</text>
<text class="st" transform="translate(1400.8 1596.4) scale(1.09 1)" text-anchor="middle">***</text>
<text class="st" transform="translate(1514.2 1543.4) scale(1.09 1)" text-anchor="middle">*</text>
<text class="st" transform="translate(1554.3 1595.5) scale(1.09 1)" text-anchor="middle">**</text>
<text class="st" transform="translate(1602.2 1627.5) scale(1.09 1)" text-anchor="middle">***</text>
<path class="ln" d="M1157.9 1512.7H1213.6"/>
<path class="ln" d="M1384.5 1596.2H1417.1"/>
<path class="ln" d="M1527.1 1596.4H1582.4"/>
</svg>
</body></html>
